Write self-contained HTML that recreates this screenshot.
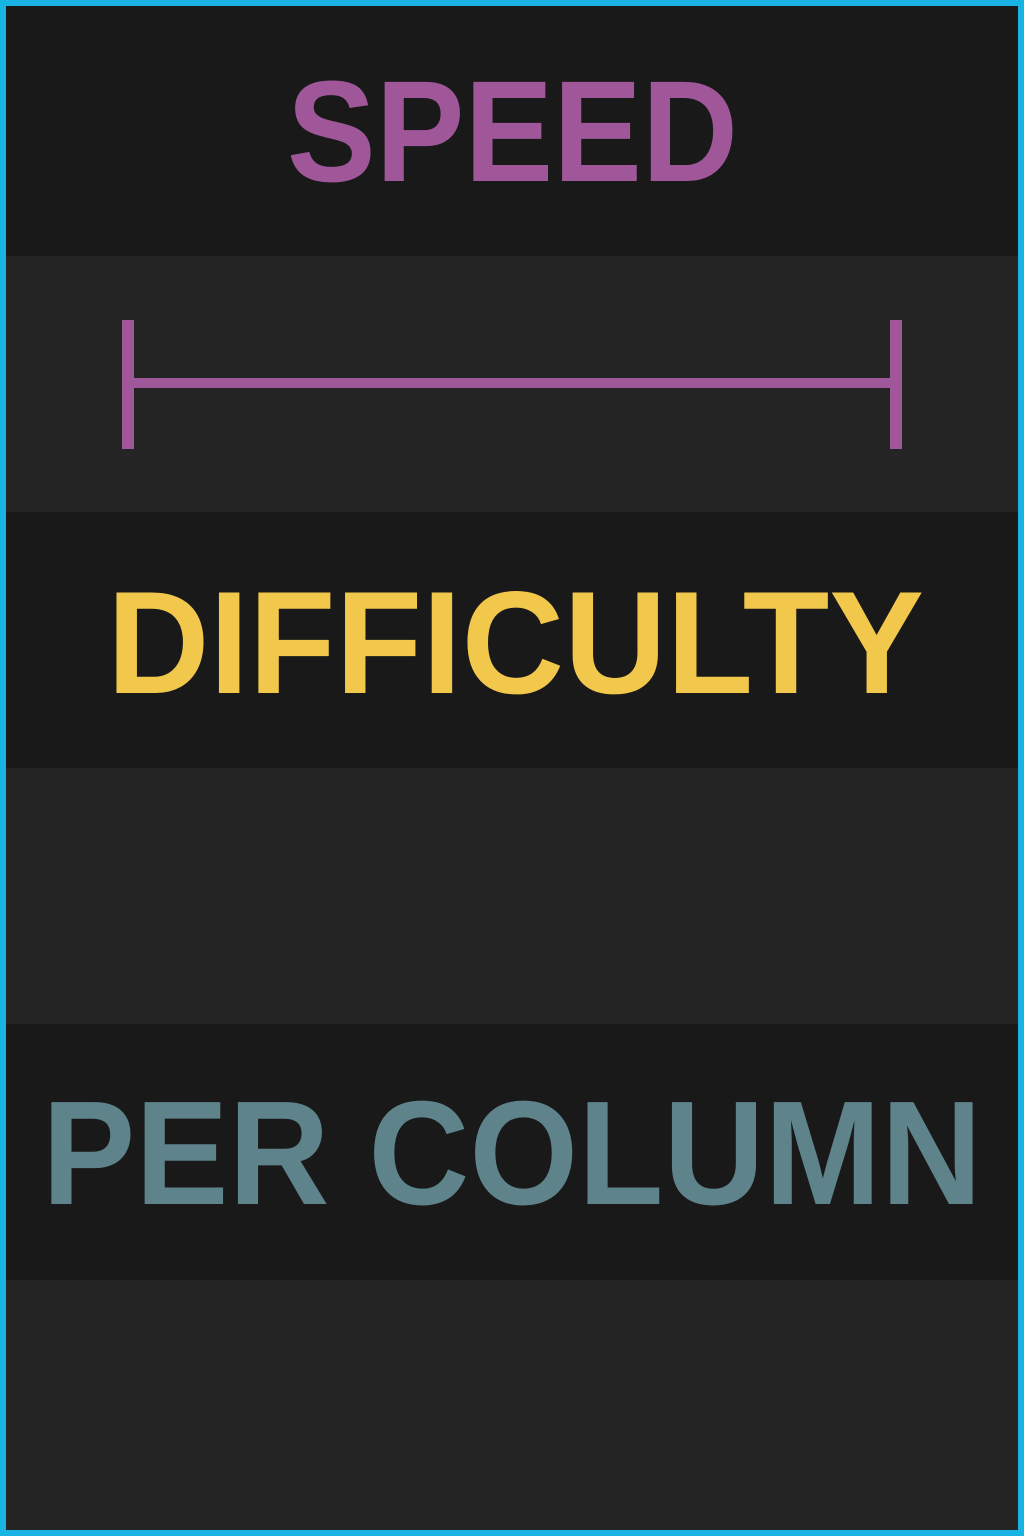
<!DOCTYPE html>
<html><head><meta charset="utf-8"><style>
html,body{margin:0;padding:0;width:1024px;height:1536px;overflow:hidden;background:#191919}
svg{display:block}
text{font-family:"Liberation Sans",sans-serif;font-weight:bold}
</style></head><body>
<svg width="1024" height="1536">
<rect x="0" y="0" width="1024" height="256" fill="#191919"/>
<rect x="0" y="256" width="1024" height="256" fill="#242424"/>
<rect x="0" y="512" width="1024" height="256" fill="#191919"/>
<rect x="0" y="768" width="1024" height="256" fill="#242424"/>
<rect x="0" y="1024" width="1024" height="256" fill="#191919"/>
<rect x="0" y="1280" width="1024" height="256" fill="#242424"/>
<text x="287" y="181" font-size="144" fill="#a0579a" textLength="451" lengthAdjust="spacingAndGlyphs">SPEED</text>
<g fill="#a0579a">
<rect x="122" y="320" width="12" height="129"/>
<rect x="890" y="320" width="12" height="129"/>
<rect x="128" y="378" width="768" height="10"/>
</g>
<text x="107" y="693" font-size="146" fill="#f1c84c" textLength="817" lengthAdjust="spacingAndGlyphs">DIFFICULTY</text>
<text x="42" y="1204" font-size="148" fill="#5e838b" textLength="940" lengthAdjust="spacingAndGlyphs">PER COLUMN</text>
<rect x="3" y="3" width="1018" height="1530" fill="none" stroke="#19b3e3" stroke-width="6"/>
</svg>
</body></html>
